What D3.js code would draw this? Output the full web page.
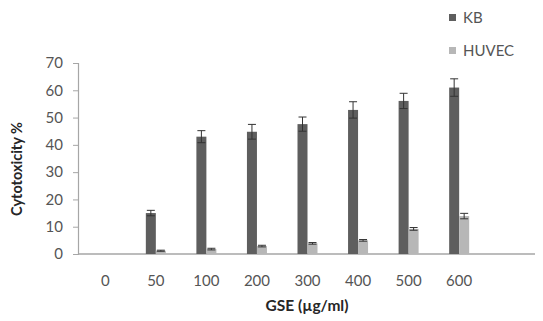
<!DOCTYPE html>
<html>
<head>
<meta charset="utf-8">
<script src="https://cdn.jsdelivr.net/npm/d3@7"></script>
<style>
  html, body { margin: 0; padding: 0; background: #fff; }
  svg { display: block; }
</style>
</head>
<body>
<script>
// Data
const categories = ["0", "50", "100", "200", "300", "400", "500", "600"];
const seriesNames = ["KB", "HUVEC"];
const kbValues = [0, 15, 43, 44.8, 47.6, 52.8, 56.1, 61];
const kbErrors = [0, 1, 2.2, 2.7, 2.6, 3, 2.8, 3.2];
const huvecValues = [0, 1.2, 1.8, 2.9, 3.9, 5, 9.2, 13.9];
const huvecErrors = [0, 0.2, 0.3, 0.3, 0.3, 0.3, 0.5, 1];
const yTicks = [0, 10, 20, 30, 40, 50, 60, 70];
const colors = { KB: "#5e5e5e", HUVEC: "#b7b7b7" };

const W = 543, H = 321;
const svg = d3.select("body").append("svg").attr("width", W).attr("height", H);

// band domain includes an extra empty slot after "600"
const bandDomain = categories.concat(["__empty"]);
const x = d3.scaleBand().domain(bandDomain).range([80, 535]).paddingInner(0).paddingOuter(0);
const y = d3.scaleLinear().domain([0, 70]).range([254, 63]);
const barW = 10;

const axisColor = "#a6a6a6";
const textColor = "#555555";
const font = "Lato, 'Open Sans', sans-serif";

// Y axis
const yAxis = svg.append("g").attr("transform", "translate(78,0)")
  .call(d3.axisLeft(y).tickValues(yTicks).tickSize(5).tickPadding(10).tickFormat(d3.format("d")));
yAxis.select(".domain").attr("stroke", axisColor).attr("stroke-width", 1.2);
yAxis.selectAll(".tick line").attr("stroke", axisColor);
yAxis.selectAll(".tick text").attr("fill", textColor).style("font-family", font).style("font-size", "15px");

// X axis line
svg.append("line").attr("x1", 78).attr("x2", 535).attr("y1", y(0)).attr("y2", y(0))
  .attr("stroke", axisColor).attr("stroke-width", 1.5);

// X tick labels
svg.append("g").selectAll("text").data(categories).join("text")
  .attr("x", d => x(d) + x.bandwidth() / 2)
  .attr("y", 286)
  .attr("text-anchor", "middle")
  .attr("fill", textColor)
  .style("font-family", font).style("font-size", "15px")
  .text(d => d);

// Bars
const rows = categories.map((c, i) => ({
  c,
  vals: [
    { s: "KB", v: kbValues[i], e: kbErrors[i] },
    { s: "HUVEC", v: huvecValues[i], e: huvecErrors[i] }
  ]
}));

const groups = svg.append("g").selectAll("g").data(rows).join("g")
  .attr("transform", d => `translate(${x(d.c) + x.bandwidth() / 2 - barW},0)`);

groups.selectAll("rect").data(d => d.vals).join("rect")
  .attr("x", (d, i) => i * barW)
  .attr("y", d => y(d.v))
  .attr("width", barW)
  .attr("height", d => y(0) - y(d.v))
  .attr("fill", d => colors[d.s]);

// Error bars
const errs = groups.selectAll("g.err").data(d => d.vals.filter(v => v.v > 0)).join("g").attr("class", "err");
errs.append("line")
  .attr("x1", d => (d.s === "KB" ? 0 : 1) * barW + barW / 2)
  .attr("x2", d => (d.s === "KB" ? 0 : 1) * barW + barW / 2)
  .attr("y1", d => y(d.v - d.e))
  .attr("y2", d => y(d.v + d.e))
  .attr("stroke", "#333").attr("stroke-width", 1);
[ "lo", "hi" ].forEach(k => {
  errs.append("line")
    .attr("x1", d => (d.s === "KB" ? 0 : 1) * barW + barW / 2 - 4)
    .attr("x2", d => (d.s === "KB" ? 0 : 1) * barW + barW / 2 + 4)
    .attr("y1", d => y(k === "hi" ? d.v + d.e : d.v - d.e))
    .attr("y2", d => y(k === "hi" ? d.v + d.e : d.v - d.e))
    .attr("stroke", "#333").attr("stroke-width", 1);
});

// Axis titles
svg.append("text")
  .attr("transform", "translate(22,169) rotate(-90)")
  .attr("text-anchor", "middle")
  .attr("fill", "#262626")
  .style("font-family", font).style("font-size", "14.5px").style("font-weight", "bold")
  .text("Cytotoxicity %");

svg.append("text")
  .attr("x", 307).attr("y", 311)
  .attr("text-anchor", "middle")
  .attr("fill", "#262626")
  .style("font-family", font).style("font-size", "15.5px").style("font-weight", "bold")
  .text("GSE (µg/ml)");

// Legend
const legend = svg.append("g").selectAll("g").data(seriesNames).join("g")
  .attr("transform", (d, i) => `translate(449,${18 + i * 33})`);
legend.append("rect").attr("x", 0).attr("y", -4).attr("width", 7).attr("height", 7)
  .attr("fill", d => colors[d]);
legend.append("text").attr("x", 14).attr("y", 5)
  .attr("fill", textColor)
  .style("font-family", font).style("font-size", "15px")
  .text(d => d);
</script>
</body>
</html>
